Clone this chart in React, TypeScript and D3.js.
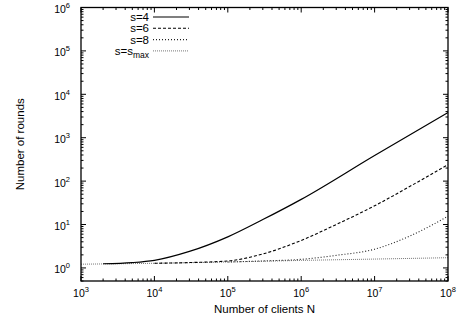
import React, { useEffect, useRef } from 'react';
import * as d3 from 'd3';

// values (log-log)
const s4N = [2e3, 5e3, 1e4, 3e4, 1e5, 3e5, 1e6, 1e7, 1e8];
const s4R = [1.25, 1.33, 1.5, 2.4, 5.2, 13, 38, 390, 3800];

const s6N = [1e4, 3e4, 1e5, 3e5, 1e6, 3e6, 1e7, 3e7, 1e8];
const s6R = [1.28, 1.33, 1.45, 2.1, 4.3, 10, 27, 75, 240];

const s8N = [1e5, 3e5, 1e6, 3e6, 1e7, 3e7, 1e8];
const s8R = [1.37, 1.45, 1.58, 1.95, 2.7, 5.4, 15.5];

const smaxN = [1e3, 1e4, 1e5, 1e6, 1e7, 1e8];
const smaxR = [1.22, 1.28, 1.37, 1.49, 1.6, 1.72];

const xTicks = [3, 4, 5, 6, 7, 8];
const yTicks = [0, 1, 2, 3, 4, 5, 6];

const series = [
  { label: 's=4', sub: '', n: s4N, r: s4R, dash: null, color: '#000', w: 1.2 },
  { label: 's=6', sub: '', n: s6N, r: s6R, dash: '3,2', color: '#000', w: 1.1 },
  { label: 's=8', sub: '', n: s8N, r: s8R, dash: '1,2', color: '#222', w: 1.1 },
  { label: 's=s', sub: 'max', n: smaxN, r: smaxR, dash: '1,1', color: '#777', w: 1 },
];

const App: React.FC = () => {
  const svgRef = useRef<SVGSVGElement | null>(null);

  useEffect(() => {
    if (!svgRef.current) return;
    const svg = d3.select(svgRef.current);
    svg.selectAll('*').remove();
    const font = 'Liberation Sans, Arial, sans-serif';

    const left = 81, right = 448, top = 7.5, bottom = 281;
    const x = d3.scaleLog().domain([1e3, 1e8]).range([left, right]);
    const y = d3.scaleLog().domain([0.5, 1e6]).range([bottom, top]);

    const g = svg.append('g');

    // ticks (inward, mirrored)
    const tk = g.append('g').attr('stroke', '#000').attr('stroke-width', 1);
    for (let e = 3; e <= 8; e++) {
      for (let m = 1; m <= 9; m++) {
        const v = m * Math.pow(10, e);
        if (v > 1e8) break;
        const len = m === 1 ? 5 : 2.5;
        const px = x(v);
        tk.append('line').attr('x1', px).attr('x2', px).attr('y1', bottom).attr('y2', bottom - len);
        tk.append('line').attr('x1', px).attr('x2', px).attr('y1', top).attr('y2', top + len);
      }
    }
    for (let e = -1; e <= 6; e++) {
      for (let m = 1; m <= 9; m++) {
        const v = m * Math.pow(10, e);
        if (v < 0.5 || v > 1e6) continue;
        const len = m === 1 ? 5 : 2.5;
        const py = y(v);
        tk.append('line').attr('x1', left).attr('x2', left + len).attr('y1', py).attr('y2', py);
        tk.append('line').attr('x1', right).attr('x2', right - len).attr('y1', py).attr('y2', py);
      }
    }

    // tick labels
    xTicks.forEach((e) => {
      const t = g.append('text')
        .attr('x', x(Math.pow(10, e)))
        .attr('y', 297)
        .attr('text-anchor', 'middle')
        .style('font-family', font)
        .style('font-size', '10.5px');
      t.append('tspan').text('10');
      t.append('tspan').attr('dy', -5).style('font-size', '7.5px').text(String(e));
    });
    yTicks.forEach((e) => {
      const t = g.append('text')
        .attr('x', 70)
        .attr('y', y(Math.pow(10, e)) + 5.5)
        .attr('text-anchor', 'end')
        .style('font-family', font)
        .style('font-size', '10.5px');
      t.append('tspan').text('10');
      t.append('tspan').attr('dy', -5).style('font-size', '7.5px').text(String(e));
    });

    // axis titles
    g.append('text')
      .attr('x', (left + right) / 2)
      .attr('y', 313)
      .attr('text-anchor', 'middle')
      .style('font-family', font)
      .style('font-size', '11.5px')
      .text('Number of clients N');
    g.append('text')
      .attr('transform', `translate(24,${(top + bottom) / 2}) rotate(-90)`)
      .attr('text-anchor', 'middle')
      .style('font-family', font)
      .style('font-size', '11.5px')
      .text('Number of rounds');

    // curves
    const line = d3.line<[number, number]>()
      .x((d) => x(d[0]))
      .y((d) => y(d[1]))
      .curve(d3.curveMonotoneX);

    series.slice().reverse().forEach((s) => {
      const pts = s.n.map((n, i) => [n, s.r[i]] as [number, number]);
      g.append('path')
        .attr('d', line(pts) as string)
        .attr('fill', 'none')
        .attr('stroke', s.color)
        .attr('stroke-width', s.w)
        .attr('stroke-dasharray', s.dash);
    });

    // legend
    series.forEach((s, i) => {
      const ly = 17 + i * 11.3;
      const t = g.append('text')
        .attr('x', 149)
        .attr('y', ly + 4)
        .attr('text-anchor', 'end')
        .style('font-family', font)
        .style('font-size', '11.5px');
      t.append('tspan').text(s.label);
      if (s.sub) t.append('tspan').attr('dy', 3).style('font-size', '8.5px').text(s.sub);
      g.append('line')
        .attr('x1', 153).attr('x2', 189)
        .attr('y1', ly).attr('y2', ly)
        .attr('stroke', s.color)
        .attr('stroke-width', s.w)
        .attr('stroke-dasharray', s.dash);
    });

    // border
    g.append('rect')
      .attr('x', left).attr('y', top)
      .attr('width', right - left).attr('height', bottom - top)
      .attr('fill', 'none')
      .attr('stroke', '#000')
      .attr('stroke-width', 1.3);
  }, []);

  return (
    <div style={{ position: 'absolute', left: 0, top: 0 }}>
      <svg ref={svgRef} width={458} height={322} style={{ display: 'block', background: '#fff' }} />
    </div>
  );
};

export default App;
